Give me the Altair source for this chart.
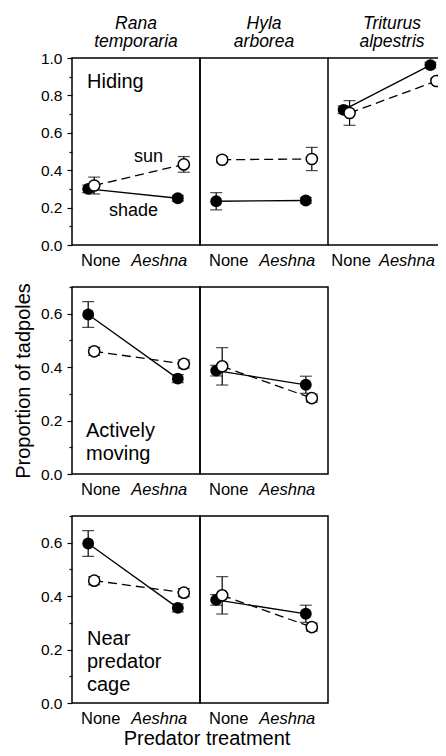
import altair as alt
import pandas as pd

FONT = "Liberation Sans"

# ---------------- data ----------------
treatments = ["None", "Aeshna"]
species_titles = [["Rana", "temporaria"], ["Hyla", "arborea"], ["Triturus", "alpestris"]]

# Hiding: one [None, Aeshna] pair per species (Rana, Hyla, Triturus)
hiding_shade = [[0.300, 0.250], [0.234, 0.238], [0.723, 0.962]]
hiding_shade_se = [[0.020, 0.015], [0.046, 0.015], [0.020, 0.015]]
hiding_sun = [[0.318, 0.431], [0.456, 0.460], [0.706, 0.877]]
hiding_sun_se = [[0.045, 0.042], [0.015, 0.062], [0.066, 0.015]]

# Actively moving: (Rana, Hyla)
moving_shade = [[0.597, 0.357], [0.387, 0.334]]
moving_shade_se = [[0.048, 0.015], [0.020, 0.032]]
moving_sun = [[0.459, 0.412], [0.403, 0.284]]
moving_sun_se = [[0.015, 0.015], [0.070, 0.015]]

# Near predator cage: (Rana, Hyla)
cage_shade = [[0.597, 0.356], [0.386, 0.334]]
cage_shade_se = [[0.048, 0.015], [0.020, 0.032]]
cage_sun = [[0.458, 0.413], [0.403, 0.284]]
cage_sun_se = [[0.015, 0.015], [0.070, 0.015]]

W, H = 128, 187     # full panel size
W_CUT = 110         # the right-hand panel is cut by the page edge, as in the source figure
OFF = 3

# page geometry (autosize none): plot origin of the top-left panel
PAD_LEFT, PAD_TOP = 64, 50
SVG_W, SVG_H = 430, 740


def make_df(shade, shade_se, sun, sun_se):
    rows = []
    for hab, vals, ses in (("shade", shade, shade_se), ("sun", sun, sun_se)):
        for t, v, s in zip(treatments, vals, ses):
            rows.append({"treatment": t, "habitat": hab, "value": v,
                         "lo": v - s, "hi": v + s})
    return pd.DataFrame(rows)


def note(text, x, y, size, align="left", style="normal"):
    return alt.Chart(pd.DataFrame({"note": [text]})).mark_text(
        align=align, baseline="alphabetic", fontSize=size, font=FONT,
        color="black", fontStyle=style
    ).encode(x=alt.value(x), y=alt.value(y), text="note:N")


def panel(shade, shade_se, sun, sun_se, ymax, left=False, ytitle=None,
          title=None, notes=(), width=W, x_span=W, none_shift=9, aeshna_shift=-22):
    df = make_df(shade, shade_se, sun, sun_se)
    tick_vals = [round(0.1 * i, 1) for i in range(int(round(ymax * 10)) + 1)]
    xenc = alt.X(
        "treatment:N", sort=treatments, title=None,
        scale=alt.Scale(type="point", padding=0.214, range=[0, x_span]),
        axis=alt.Axis(
            ticks=False, domain=False, labelAngle=0, labelFontSize=16.5,
            labelColor="black", labelPadding=7, labelFont=FONT,
            labelFontStyle={"condition": {"test": "datum.value === 'Aeshna'", "value": "italic"},
                            "value": "normal"},
            labelOffset={"condition": {"test": "datum.value === 'Aeshna'", "value": aeshna_shift},
                         "value": none_shift},
        ),
    )
    if left:
        yaxis = alt.Axis(
            values=tick_vals, domain=False, grid=False, tickColor="black", tickWidth=1.2,
            tickSize={"condition": {"test": "round(datum.value*10) % 2 === 1", "value": 3},
                      "value": 5},
            labelExpr="round(datum.value*10) % 2 === 0 ? format(datum.value, '.1f') : ''",
            labelFontSize=15.5, labelColor="black", labelPadding=5, labelFont=FONT,
            titleFontSize=20, titleFontWeight="normal", titleColor="black",
            titlePadding=7, titleFont=FONT,
        )
    else:
        yaxis = None
    yscale = alt.Scale(domain=[0, ymax], nice=False, zero=True)

    def Y(field):
        return alt.Y(f"{field}:Q", scale=yscale, axis=yaxis, title=ytitle)

    base = alt.Chart(df)
    sh = base.transform_filter("datum.habitat === 'shade'")
    su = base.transform_filter("datum.habitat === 'sun'")

    layers = [
        sh.mark_line(color="black", strokeWidth=1.3, xOffset=-OFF).encode(x=xenc, y=Y("value")),
        su.mark_line(color="black", strokeWidth=1.3, strokeDash=[9, 5], xOffset=OFF).encode(x=xenc, y=Y("value")),
    ]
    for src, off in ((sh, -OFF), (su, OFF)):
        layers.append(src.mark_rule(color="black", strokeWidth=1.2, xOffset=off).encode(
            x=xenc, y=Y("lo"), y2="hi:Q"))
        layers.append(src.mark_tick(color="black", size=12, thickness=1.2, xOffset=off).encode(
            x=xenc, y=Y("lo")))
        layers.append(src.mark_tick(color="black", size=12, thickness=1.2, xOffset=off).encode(
            x=xenc, y=Y("hi")))
    layers.append(sh.mark_circle(color="black", opacity=1, size=140, xOffset=-OFF).encode(
        x=xenc, y=Y("value")))
    layers.append(su.mark_circle(fill="white", stroke="black", strokeWidth=1.5, opacity=1,
                                 size=125, xOffset=OFF).encode(x=xenc, y=Y("value")))
    if title is not None:
        layers.append(note(title[0], W / 2, -29.5, 17.5, "center", "italic"))
        layers.append(note(title[1], W / 2, -11, 17.5, "center", "italic"))
    for n in notes:
        layers.append(note(*n))

    props = dict(width=width, height=H)
    if width != W:
        # frame of the cut panel: top and bottom edges only (left edge is shared)
        frame_df = pd.DataFrame({"edge": ["top", "bottom"]})
        layers.append(alt.Chart(frame_df).transform_filter("datum.edge === 'top'").mark_rule(
            color="black", strokeWidth=1.5).encode(x=alt.value(0), x2=alt.value(W), y=alt.value(0)))
        layers.append(alt.Chart(frame_df).transform_filter("datum.edge === 'bottom'").mark_rule(
            color="black", strokeWidth=1.5).encode(x=alt.value(0), x2=alt.value(W), y=alt.value(H)))
        props["view"] = alt.ViewBackground(stroke="transparent")
    return alt.layer(*layers).properties(**props)


top = []
for i in range(3):
    notes = ()
    if i == 0:
        notes = (("Hiding", 15, 30, 20), ("sun", 62, 104, 18), ("shade", 37, 158, 18))
    extra = {} if i < 2 else dict(width=W_CUT, x_span=124, none_shift=4, aeshna_shift=-27)
    top.append(panel(hiding_shade[i], hiding_shade_se[i], hiding_sun[i], hiding_sun_se[i],
                     1.0, left=(i == 0), title=species_titles[i], notes=notes, **extra))

mid = []
for i in range(2):
    notes = (("Actively", 14, 150, 20), ("moving", 14, 172.5, 20)) if i == 0 else ()
    mid.append(panel(moving_shade[i], moving_shade_se[i], moving_sun[i], moving_sun_se[i],
                     0.7, left=(i == 0),
                     ytitle="Proportion of tadpoles" if i == 0 else None, notes=notes))

bot = []
for i in range(2):
    notes = ()
    if i == 0:
        notes = (("Near", 15, 129, 20), ("predator", 15, 152, 20), ("cage", 15, 175, 20),
                 ("Predator treatment", 135, 228.5, 20, "center"))
    bot.append(panel(cage_shade[i], cage_shade_se[i], cage_sun[i], cage_sun_se[i],
                     0.7, left=(i == 0), notes=notes))

blank = alt.Chart(pd.DataFrame({"b": [""]})).mark_text().encode(
    x=alt.value(0), y=alt.value(0), text="b:N"
).properties(width=W_CUT, height=H, view=alt.ViewBackground(stroke="transparent"))

chart = alt.concat(
    *top, *mid, blank, *bot, columns=3,
    spacing={"row": 42, "column": 0}, bounds="flush",
).properties(
    autosize=alt.AutoSizeParams(type="none"),
    padding={"left": PAD_LEFT, "top": PAD_TOP,
             "right": SVG_W - PAD_LEFT, "bottom": SVG_H - PAD_TOP},
).configure(font=FONT).configure_view(
    stroke="black", strokeWidth=1.5
).configure_axis(grid=False)

chart.save("out.html", embed_options={"renderer": "svg", "actions": False})
